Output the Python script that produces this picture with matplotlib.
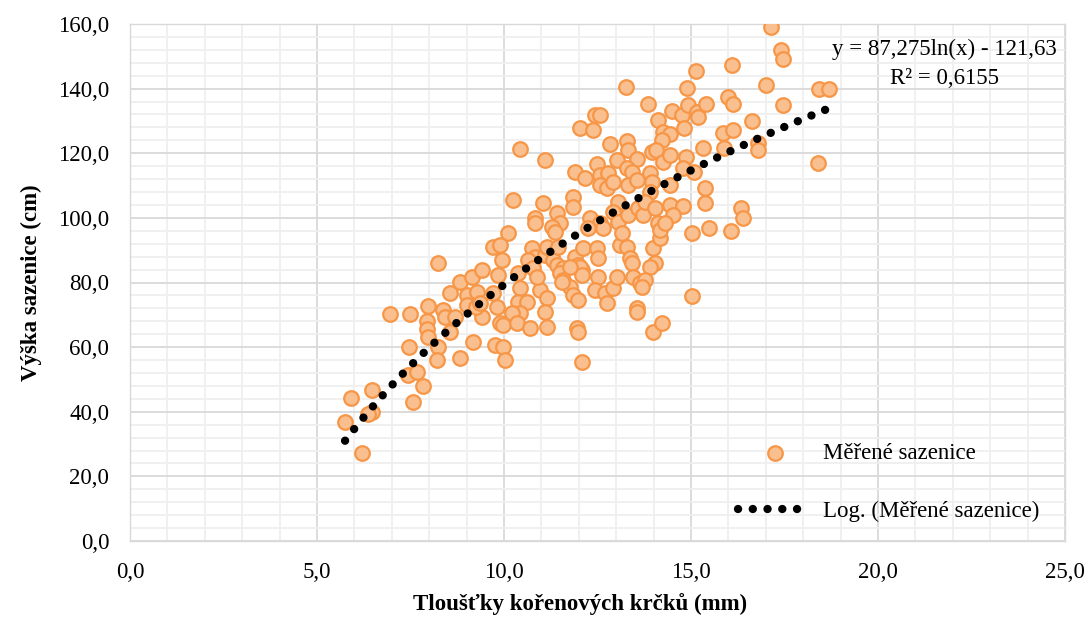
import numpy as np
import matplotlib
matplotlib.use("Agg")
import matplotlib.pyplot as plt
from matplotlib.ticker import MultipleLocator, FixedLocator, FixedFormatter

plt.rcParams['font.family'] = ['Liberation Serif', 'DejaVu Serif']

# ---- data ----
thickness_mm = [
    5.75, 5.91, 6.20, 6.47, 6.47, 6.36, 6.95, 7.49, 7.46, 7.43, 7.67, 7.57, 7.83, 7.97, 7.94, 7.94, 7.97, 8.24,
    8.21, 8.24, 8.37, 8.42, 8.56, 8.69, 8.56, 8.82, 9.01, 9.14, 9.01, 9.17, 8.82, 9.41, 9.41, 9.28, 9.25, 9.36,
    10.24, 11.04, 10.83, 10.83, 11.42, 11.50, 11.28, 11.36, 10.11, 9.71, 9.89, 9.95, 10.75, 10.83, 10.64, 11.10,
    11.15, 11.31, 11.42, 11.58, 11.50, 11.90, 11.98, 12.09, 12.11, 12.49, 12.51, 13.10, 13.29, 13.37, 13.42, 13.98,
    14.04, 13.90, 9.84, 9.71, 9.81, 9.89, 9.97, 10.37, 10.43, 10.37, 10.61, 10.43, 10.21, 10.35, 10.70, 9.76,
    9.97, 10.03, 10.96, 11.15, 11.10, 11.15, 11.58, 11.76, 11.84, 11.98, 12.03, 12.09, 12.51, 12.43, 12.70, 12.91,
    13.02, 12.75, 11.95, 11.98, 12.09, 13.45, 13.64, 13.77, 13.69, 13.56, 13.56, 13.98, 14.22, 14.17, 15.03, 10.43,
    11.10, 10.78, 10.88, 11.44, 11.76, 11.55,
    15.13, 13.26, 14.89, 13.85, 14.49, 14.76, 14.92, 15.16, 15.19, 15.40, 14.12, 14.25, 14.44, 14.22, 14.81, 12.43,
    12.57, 12.03, 12.38, 12.83, 13.29, 13.32, 13.56, 13.02, 12.49, 13.96, 14.06, 14.25, 14.44, 14.87, 14.79, 15.08,
    15.32, 11.90, 12.17, 12.57, 12.78, 12.57, 12.75, 12.91, 13.29, 13.42, 13.32, 13.56, 13.90, 13.96, 13.90, 14.44,
    14.44, 14.79, 14.52, 11.84, 11.84, 13.05, 12.91, 13.05, 13.32, 13.16, 13.58, 13.72, 13.77, 14.04, 14.12, 14.17,
    14.30, 15.03, 12.30, 12.57, 12.65, 12.25,
    17.14, 17.41, 17.46, 16.10, 17.01, 18.42, 18.69, 15.99, 16.12, 17.46, 16.63, 15.86, 16.12, 15.88, 16.79, 16.79,
    18.40, 16.34, 16.39, 16.07, 15.37, 15.37, 15.48,
]
height_cm = [
    36.8, 44.3, 27.2, 46.7, 39.9, 39.3, 70.3, 70.3, 60.0, 51.4, 52.3, 43.0, 48.0, 72.7, 68.1, 65.6, 63.1, 60.0,
    56.0, 86.0, 71.5, 69.3, 64.7, 69.3, 76.8, 80.2, 76.1, 81.7, 73.0, 61.6, 56.6, 83.9, 69.3, 77.1, 72.4, 73.7,
    105.5, 104.6, 100.0, 98.4, 101.5, 98.4, 97.2, 95.6, 95.3, 91.0, 91.6, 87.0, 90.7, 87.9, 87.0, 88.5,
    91.0, 87.0, 85.4, 84.5, 82.9, 87.9, 85.4, 83.9, 90.7, 90.7, 87.6, 91.6, 91.0, 87.6, 86.0, 90.7,
    86.0, 84.8, 82.3, 76.8, 72.4, 67.5, 66.9, 82.9, 78.3, 74.0, 74.0, 70.6, 70.6, 67.5, 65.9, 60.7,
    60.0, 56.0, 77.7, 75.2, 70.9, 66.2, 80.8, 78.6, 76.1, 74.6, 84.8, 82.3, 81.7, 77.7, 76.8, 78.3,
    81.7, 73.7, 65.9, 64.7, 55.4, 81.7, 79.9, 80.8, 78.6, 72.1, 70.9, 64.7, 67.5, 93.8, 75.8, 121.3,
    117.9, 84.5, 81.7, 91.0, 84.8, 80.2,
    145.5, 140.5, 140.2, 135.3, 133.1, 131.8, 134.9, 132.8, 131.2, 135.3, 130.3, 126.6, 126.0, 124.1, 127.8, 131.8,
    131.8, 127.8, 127.2, 122.9, 123.8, 121.0, 118.2, 117.9, 116.7, 120.4, 121.0, 117.3, 119.5, 118.8, 115.4, 114.2,
    121.6, 114.2, 112.3, 113.3, 113.9, 110.2, 109.3, 111.1, 115.4, 114.2, 110.2, 111.7, 113.9, 111.1, 108.0, 110.2,
    104.0, 103.7, 100.9, 106.5, 103.4, 104.9, 101.8, 98.7, 100.9, 95.3, 103.1, 100.9, 104.9, 103.1, 98.4, 96.3,
    98.4, 95.3, 100.0, 98.4, 96.9, 96.9,
    159.1, 152.0, 149.2, 147.3, 141.1, 139.9, 139.9, 137.4, 135.3, 134.9, 130.0, 126.3, 127.2, 121.6, 123.2, 121.0,
    117.0, 103.1, 100.0, 95.9, 109.3, 104.6, 96.9,
]

# logarithmic trendline shown on the chart: y = a*ln(x) + b
trend_a = 87.275
trend_b = -121.63
equation_text = "y = 87,275ln(x) - 121,63"
r2_text = "R² = 0,6155"

series_label = "Měřené sazenice"
trend_label = "Log. (Měřené sazenice)"
x_label = "Tloušťky kořenových krčků (mm)"
y_label = "Výška sazenice (cm)"

x_ticks = [0, 5, 10, 15, 20, 25]
x_tick_labels = ["0,0", "5,0", "10,0", "15,0", "20,0", "25,0"]
y_ticks = [0, 20, 40, 60, 80, 100, 120, 140, 160]
y_tick_labels = ["0,0", "20,0", "40,0", "60,0", "80,0", "100,0", "120,0", "140,0", "160,0"]

FS = 16.5

# ---- figure ----
W, H = 1091, 619
fig = plt.figure(figsize=(W / 100, H / 100), dpi=100)
ax = fig.add_axes([130 / W, 1 - 541 / H, (1065 - 130) / W, (541 - 24) / H])

ax.set_xlim(0, 25)
ax.set_ylim(0, 160)

ax.xaxis.set_major_locator(FixedLocator(x_ticks))
ax.xaxis.set_major_formatter(FixedFormatter(x_tick_labels))
ax.yaxis.set_major_locator(FixedLocator(y_ticks))
ax.yaxis.set_major_formatter(FixedFormatter(y_tick_labels))
ax.xaxis.set_minor_locator(MultipleLocator(1))
ax.yaxis.set_minor_locator(MultipleLocator(4))

ax.grid(which='minor', color='#EFEFEF', linewidth=1.3, zorder=0)
ax.grid(which='major', color='#D9D9D9', linewidth=1.3, zorder=0)
ax.set_axisbelow(True)
for s in ax.spines.values():
    s.set_color('#D9D9D9')
    s.set_linewidth(1.0)

ax.tick_params(which='both', length=0)
ax.tick_params(axis='y', labelsize=FS, pad=15)
ax.tick_params(axis='x', labelsize=FS, pad=15)

ax.scatter(thickness_mm, height_cm, s=110, facecolor='#F9BF8F', edgecolor='#F79646',
           linewidth=1.6, zorder=3, label=series_label)

xt = np.linspace(min(thickness_mm), max(thickness_mm), 400)
yt = trend_a * np.log(xt) + trend_b
ax.plot(xt, yt, color='black', linewidth=6.0, linestyle=(0, (0.01, 1.76)),
        dash_capstyle='round', zorder=4, label=trend_label)

ax.set_xlabel(x_label, fontsize=FS, fontweight='bold')
ax.set_ylabel(y_label, fontsize=FS, fontweight='bold')
ax.xaxis.label.set_verticalalignment('center')
ax.yaxis.label.set_verticalalignment('center')
ax.xaxis.set_label_coords(580 / W, 1 - 604 / H, transform=fig.transFigure)
ax.yaxis.set_label_coords(31 / W, 1 - 283 / H, transform=fig.transFigure)

fig.text(944 / W, 1 - 49 / H, equation_text, ha='center', va='center', fontsize=FS)
fig.text(944 / W, 1 - 78 / H, r2_text, ha='center', va='center', fontsize=FS)

leg = ax.legend(loc='center left', bbox_to_anchor=(738 / W, 1 - 482.5 / H),
                bbox_transform=fig.transFigure, frameon=False, fontsize=FS,
                handlelength=3.2, handletextpad=0.5, labelspacing=1.6,
                borderpad=0, borderaxespad=0, scatterpoints=1)

fig.savefig("out.png", dpi=100)
